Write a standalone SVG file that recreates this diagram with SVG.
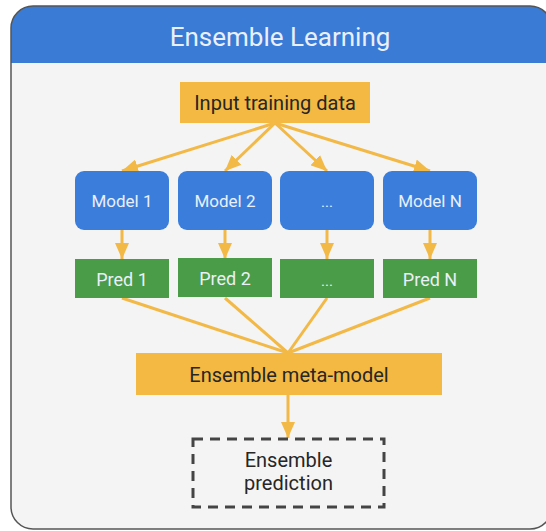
<svg xmlns="http://www.w3.org/2000/svg" width="546" height="531" viewBox="0 0 546 531">
  <style>
    text { font-family: Roboto, "Liberation Sans", Arial, sans-serif; text-anchor: middle; }
    .title { font-size: 26px; fill: #e9f0fb; }
    .blue { fill: #3b7ddb; }
    .green { fill: #4b9c48; }
    .yellow { fill: #f4b942; }
    .lt { fill: #e9f0f9; }
    .dk { fill: #262626; }
    .conn { stroke: #f2b947; stroke-width: 3; fill: none; }
  </style>
  <defs>
    <clipPath id="frameClip">
      <rect x="11" y="6" width="541" height="523" rx="22" ry="22"/>
    </clipPath>
    <marker id="arrow" viewBox="0 0 16 14" refX="16" refY="7" markerWidth="16" markerHeight="14" markerUnits="userSpaceOnUse" orient="auto">
      <path d="M0,0 L16,7 L0,14 z" fill="#f2b947"/>
    </marker>
  </defs>

  <g id="frame">
    <rect x="11" y="6" width="541" height="523" rx="22" ry="22" fill="#f4f4f4"/>
    <rect x="11" y="6" width="541" height="57" fill="#3a7bd6" clip-path="url(#frameClip)"/>
    <rect x="11" y="6" width="541" height="523" rx="22" ry="22" fill="none" stroke="#555" stroke-width="1.5"/>
    <text class="title" x="280" y="46">Ensemble Learning</text>
  </g>

  <g id="connectors">
    <line class="conn" x1="275" y1="123" x2="122" y2="171" marker-end="url(#arrow)"/>
    <line class="conn" x1="275" y1="123" x2="225" y2="171" marker-end="url(#arrow)"/>
    <line class="conn" x1="275" y1="123" x2="327" y2="171" marker-end="url(#arrow)"/>
    <line class="conn" x1="275" y1="123" x2="430" y2="171" marker-end="url(#arrow)"/>
    <line class="conn" x1="122" y1="230" x2="122" y2="259" marker-end="url(#arrow)"/>
    <line class="conn" x1="225" y1="230" x2="225" y2="259" marker-end="url(#arrow)"/>
    <line class="conn" x1="327" y1="230" x2="327" y2="259" marker-end="url(#arrow)"/>
    <line class="conn" x1="430" y1="230" x2="430" y2="259" marker-end="url(#arrow)"/>
    <line class="conn" x1="122" y1="298" x2="288" y2="353"/>
    <line class="conn" x1="225" y1="298" x2="288" y2="353"/>
    <line class="conn" x1="327" y1="298" x2="288" y2="353"/>
    <line class="conn" x1="430" y1="298" x2="288" y2="353"/>
    <line class="conn" x1="288" y1="395" x2="288" y2="438" marker-end="url(#arrow)"/>
  </g>

  <g id="input">
    <rect class="yellow" x="180" y="82" width="190" height="41"/>
    <text class="dk" x="275" y="110" font-size="20">Input training data</text>
  </g>

  <g id="model1">
    <rect class="blue" x="75" y="171" width="94" height="59" rx="9"/>
    <text class="lt" x="122" y="207" font-size="17">Model 1</text>
  </g>
  <g id="model2">
    <rect class="blue" x="178" y="171" width="94" height="59" rx="9"/>
    <text class="lt" x="225" y="207" font-size="17">Model 2</text>
  </g>
  <g id="model3">
    <rect class="blue" x="280" y="171" width="94" height="59" rx="9"/>
    <text class="lt" x="327" y="207" font-size="15">...</text>
  </g>
  <g id="modelN">
    <rect class="blue" x="383" y="171" width="94" height="59" rx="9"/>
    <text class="lt" x="430" y="207" font-size="17">Model N</text>
  </g>

  <g id="pred1">
    <rect class="green" x="75" y="259" width="94" height="39"/>
    <text class="lt" x="122" y="286" font-size="18">Pred 1</text>
  </g>
  <g id="pred2">
    <rect class="green" x="178" y="258" width="94" height="39"/>
    <text class="lt" x="225" y="285" font-size="18">Pred 2</text>
  </g>
  <g id="pred3">
    <rect class="green" x="280" y="259" width="94" height="39"/>
    <text class="lt" x="327" y="286" font-size="15">...</text>
  </g>
  <g id="predN">
    <rect class="green" x="383" y="259" width="94" height="39"/>
    <text class="lt" x="430" y="286" font-size="18">Pred N</text>
  </g>

  <g id="meta">
    <rect class="yellow" x="136" y="353" width="306" height="42"/>
    <text class="dk" x="289" y="382" font-size="20">Ensemble meta-model</text>
  </g>

  <g id="result">
    <rect x="193" y="439" width="191" height="68" fill="none" stroke="#444" stroke-width="3" stroke-dasharray="10 7"/>
    <text class="dk" x="288.5" y="467" font-size="20">Ensemble</text>
    <text class="dk" x="288.5" y="490" font-size="20">prediction</text>
  </g>
</svg>
